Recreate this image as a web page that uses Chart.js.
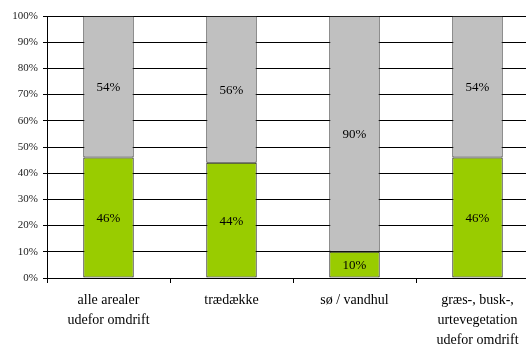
<!DOCTYPE html>
<html>
<head>
<meta charset="utf-8">
<script src="https://cdn.jsdelivr.net/npm/chart.js@4"></script>
<style>
  html, body { margin: 0; padding: 0; overflow: hidden; background: #fff; }
  #wrap { width: 540px; height: 345px; }
</style>
</head>
<body>
<div id="wrap"><canvas id="barCanvas"></canvas></div>
<script>
const categories = [
    ["alle arealer", "udefor omdrift"],
    "trædække",
    "sø / vandhul",
    ["græs-, busk-,", "urtevegetation", "udefor omdrift"]
];
const greenValues = [46, 44, 10, 46];
const greyValues = [54, 56, 90, 54];

const serif = "'Liberation Serif', 'DejaVu Serif', serif";

// draws the percent inside each bar segment
const valueLabels = {
    id: "valueLabels",
    afterDatasetsDraw(chart) {
        const ctx = chart.ctx;
        ctx.save();
        ctx.font = "13px " + serif;
        ctx.fillStyle = "#000";
        ctx.textAlign = "center";
        ctx.textBaseline = "middle";
        chart.data.datasets.forEach((ds, i) => {
            chart.getDatasetMeta(i).data.forEach((bar, j) => {
                ctx.fillText(ds.data[j] + "%", bar.x, (bar.y + bar.base) / 2 + 1);
            });
        });
        ctx.restore();
    }
};

const barCanvas = document.getElementById("barCanvas");
const barChart = new Chart(barCanvas, {
    type: "bar",
    data: {
        labels: categories,
        datasets: [{
            data: greenValues,
            backgroundColor: "#99CC00",
            borderColor: "#111",
            borderWidth: 1,
            borderSkipped: false
        }, {
            data: greyValues,
            backgroundColor: "#C0C0C0",
            borderColor: "#222",
            borderWidth: 1,
            borderSkipped: false
        }]
    },
    options: {
        responsive: true,
        maintainAspectRatio: false,
        animation: false,
        datasets: {
            bar: { barPercentage: 0.41, categoryPercentage: 1 }
        },
        layout: { padding: { top: 16, left: 0, right: 1, bottom: 0 } },
        plugins: {
            legend: { display: false },
            tooltip: { enabled: false }
        },
        scales: {
            x: {
                stacked: true,
                afterFit(scale) { scale.height = 67; },
                grid: {
                    drawOnChartArea: false,
                    tickLength: 5,
                    color: "#000"
                },
                border: { color: "#000" },
                ticks: {
                    color: "#000",
                    padding: 8,
                    maxRotation: 0,
                    autoSkip: false,
                    font: { family: serif, size: 14, lineHeight: 1.4 }
                }
            },
            y: {
                stacked: true,
                min: 0,
                max: 100,
                afterFit(scale) { scale.width = 47; },
                grid: {
                    color: "#000",
                    tickLength: 4
                },
                border: { color: "#000" },
                ticks: {
                    stepSize: 10,
                    color: "#222",
                    padding: 5,
                    font: { family: serif, size: 11 },
                    callback: v => v + "%"
                }
            }
        }
    },
    plugins: [valueLabels]
});
</script>
</body>
</html>
